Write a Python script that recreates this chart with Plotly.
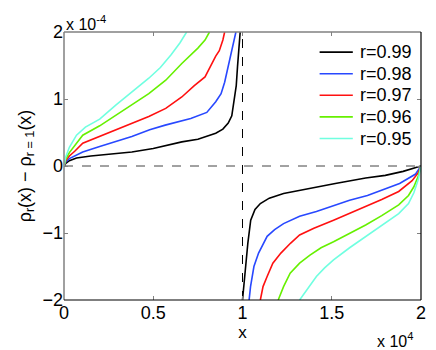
import plotly.graph_objects as go

# -------------------------
# Data (y in units of 1e-4)
# -------------------------
labels = ["r=0.99", "r=0.98", "r=0.97", "r=0.96", "r=0.95"]
colors = ["#000000", "#2848ff", "#ff1010", "#66f000", "#70ffe0"]

# left branch (0 < x < 1e4)
x_left = {
    "r=0.99": [0, 100, 300, 700, 1500, 2500, 3800, 5000, 6600, 7500, 8500, 8900, 9200, 9400, 9540, 9650, 9720, 9800, 9870],
    "r=0.98": [0, 100, 300, 700, 1050, 2000, 3800, 4800, 5670, 7100, 8000, 8500, 8800, 9000, 9200, 9350, 9500, 9630],
    "r=0.97": [0, 100, 300, 600, 1050, 2000, 2900, 3800, 4750, 5700, 6600, 7300, 7900, 8500, 8700, 8900, 9000],
    "r=0.96": [0, 100, 300, 600, 1050, 2000, 2900, 3800, 4750, 5700, 6600, 7500, 7900, 8150],
    "r=0.95": [0, 100, 300, 700, 1200, 2000, 2900, 3800, 4750, 5400, 6000, 6500, 6870],
}
y_left = {
    "r=0.99": [0, 0.04, 0.08, 0.12, 0.15, 0.18, 0.21, 0.26, 0.36, 0.40, 0.49, 0.55, 0.64, 0.75, 0.98, 1.20, 1.48, 1.75, 2.0],
    "r=0.98": [0, 0.06, 0.11, 0.17, 0.21, 0.29, 0.44, 0.54, 0.61, 0.71, 0.80, 0.96, 1.08, 1.25, 1.48, 1.66, 1.83, 2.0],
    "r=0.97": [0, 0.08, 0.15, 0.22, 0.34, 0.44, 0.54, 0.63, 0.74, 0.86, 1.03, 1.20, 1.33, 1.64, 1.72, 1.88, 2.0],
    "r=0.96": [0, 0.10, 0.20, 0.30, 0.46, 0.60, 0.76, 0.92, 1.08, 1.28, 1.53, 1.76, 1.88, 2.0],
    "r=0.95": [0, 0.14, 0.28, 0.46, 0.58, 0.70, 0.91, 1.10, 1.31, 1.47, 1.66, 1.84, 2.0],
}

# right branch (1e4 < x < 2e4)
x_right = {
    "r=0.99": [10000, 10080, 10180, 10300, 10460, 10700, 11000, 11500, 12300, 13200, 14140, 15200, 16900, 18000, 19000, 20000],
    "r=0.98": [10370, 10450, 10640, 10900, 11380, 11800, 12300, 13200, 14140, 15000, 16000, 17000, 17800, 18800, 19700, 20000],
    "r=0.97": [11000, 11150, 11380, 11700, 12150, 12700, 13200, 14000, 15100, 16000, 16900, 17800, 18750, 19500, 19850, 20000],
    "r=0.96": [12000, 12300, 12670, 13200, 13780, 14400, 15100, 16000, 16900, 17800, 18750, 19300, 19600, 19850, 20000],
    "r=0.95": [13200, 13600, 14140, 14600, 15100, 16000, 16900, 17800, 18750, 19300, 19600, 19850, 20000],
}
y_right = {
    "r=0.99": [-2.0, -1.75, -1.45, -1.15, -0.81, -0.65, -0.56, -0.48, -0.41, -0.36, -0.31, -0.26, -0.18, -0.14, -0.08, 0],
    "r=0.98": [-2.0, -1.80, -1.50, -1.30, -1.05, -0.95, -0.86, -0.75, -0.68, -0.60, -0.51, -0.44, -0.36, -0.26, -0.12, 0],
    "r=0.97": [-2.0, -1.80, -1.65, -1.45, -1.30, -1.15, -1.03, -0.93, -0.81, -0.71, -0.61, -0.50, -0.38, -0.22, -0.10, 0],
    "r=0.96": [-2.0, -1.80, -1.60, -1.45, -1.33, -1.22, -1.13, -1.01, -0.88, -0.74, -0.58, -0.44, -0.31, -0.15, 0],
    "r=0.95": [-2.0, -1.85, -1.65, -1.52, -1.40, -1.22, -1.05, -0.88, -0.71, -0.56, -0.40, -0.20, 0],
}

x_ticks = [0, 5000, 10000, 15000, 20000]
x_ticktext = ["0", "0.5", "1", "1.5", "2"]
y_ticks = [-2, -1, 0, 1, 2]
y_ticktext = ["−2", "−1", "0", "1", "2"]

FONT = "Liberation Sans, Arial, Helvetica, sans-serif"

fig = go.Figure()

for lab, col in zip(labels, colors):
    fig.add_trace(go.Scatter(
        x=x_left[lab], y=y_left[lab], mode="lines",
        line=dict(color=col, width=1.6), name=lab, showlegend=False,
    ))
    fig.add_trace(go.Scatter(
        x=x_right[lab], y=y_right[lab], mode="lines",
        line=dict(color=col, width=1.6), name=lab, showlegend=False,
    ))

# dashed reference lines
fig.add_shape(type="line", x0=0, x1=20000, y0=0, y1=0,
              line=dict(color="#444444", width=1, dash="dash"), layer="below")
fig.add_shape(type="line", x0=10000, x1=10000, y0=-2, y1=2,
              line=dict(color="#000000", width=1, dash="dash"), layer="below")

# axes box: left/top grey, bottom/right black
fig.add_shape(type="line", xref="paper", yref="paper", x0=0, x1=0, y0=0, y1=1,
              line=dict(color="#808080", width=1.5))
fig.add_shape(type="line", xref="paper", yref="paper", x0=0, x1=1, y0=1, y1=1,
              line=dict(color="#808080", width=1.5))
fig.add_shape(type="line", xref="paper", yref="paper", x0=0, x1=1, y0=0, y1=0,
              line=dict(color="#000000", width=1.2))
fig.add_shape(type="line", xref="paper", yref="paper", x0=1, x1=1, y0=0, y1=1,
              line=dict(color="#000000", width=1.2))

# -------------------------
# Legend (MATLAB style, tighter rows than plotly's own legend)
# -------------------------
annotations = []
leg_top = 0.925
leg_step = 0.0806
for i, (lab, col) in enumerate(zip(labels, colors)):
    yy = leg_top - i * leg_step
    fig.add_shape(type="line", xref="paper", yref="paper",
                  x0=0.716, x1=0.809, y0=yy, y1=yy,
                  line=dict(color=col, width=1.6))
    annotations.append(dict(text=lab, xref="paper", yref="paper", x=0.823, y=yy,
                            xanchor="left", yanchor="middle", showarrow=False,
                            font=dict(size=18)))

annotations += [
    dict(text="x 10<sup>-4</sup>", xref="paper", yref="paper", x=0, y=1,
         xanchor="left", yanchor="bottom", showarrow=False, yshift=-3,
         font=dict(size=16)),
    dict(text="x 10<sup>4</sup>", xref="paper", yref="paper", x=1, y=0,
         xanchor="right", yanchor="top", showarrow=False, yshift=-28, xshift=-6,
         font=dict(size=16)),
]

# page body has an 8px margin, so the figure is a bit smaller than the window
fig.update_layout(
    width=428, height=342,
    margin=dict(l=56, r=10, t=24, b=50),
    paper_bgcolor="white", plot_bgcolor="white",
    font=dict(family=FONT, size=18, color="black"),
    showlegend=False,
    xaxis=dict(
        range=[0, 20000], tickvals=x_ticks, ticktext=x_ticktext,
        ticks="inside", ticklen=4, tickcolor="#808080", mirror="ticks",
        showgrid=False, zeroline=False, showline=False,
        title=dict(text="x", standoff=0, font=dict(size=17)),
    ),
    yaxis=dict(
        range=[-2, 2], tickvals=y_ticks, ticktext=y_ticktext,
        ticks="inside", ticklen=4, tickcolor="#808080", mirror="ticks",
        showgrid=False, zeroline=False, showline=False,
        title=dict(text="ρ<sub>r</sub>(x) − ρ<sub>r = 1</sub>(x)", standoff=6, font=dict(size=18)),
    ),
    annotations=annotations,
)

fig.write_html("out.html")
